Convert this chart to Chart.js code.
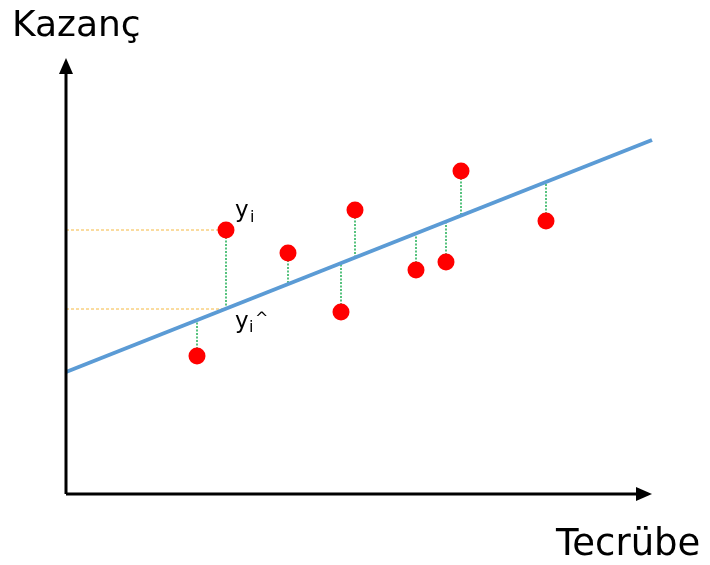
<html lang="tr">
<head>
<meta charset="UTF-8">
<title>Kazanç - Tecrübe</title>
<script src="https://cdn.jsdelivr.net/npm/chart.js@4.4.1/dist/chart.umd.min.js"></script>
<style>
  body { margin: 0; background: #fff; }
  #wrap { width: 710px; height: 565px; }
</style>
</head>
<body>
<div id="wrap"><canvas id="regChart" width="710" height="565"></canvas></div>
<script>
const tecrube = [131, 160, 222, 275, 289, 350, 380, 395, 480];
const kazanc  = [138, 264, 241, 182, 284, 224, 232, 323, 273];
// value of the fitted line under each point
const tahmin  = [174, 185, 210, 231, 236, 261, 272, 278, 312];
// regression line end points
const lineX = [0, 586];
const lineY = [122, 354];
const xMax = 586, yMax = 436;
const marked = 1; // index of the point labelled y_i

let datasets = [];
datasets.push({
  label: 'noktalar',
  data: tecrube.map((x, i) => ({ x: x, y: kazanc[i] })),
  pointRadius: 8.5, pointHoverRadius: 8.5,
  backgroundColor: '#ff0000', borderColor: '#ff0000', borderWidth: 0,
  showLine: false, order: 0
});
datasets.push({
  label: 'regresyon',
  data: lineX.map((x, i) => ({ x: x, y: lineY[i] })),
  showLine: true, borderColor: '#5b9bd5', borderWidth: 4,
  pointRadius: 0, order: 1
});
tecrube.forEach((x, i) => {
  datasets.push({
    label: 'hata' + i,
    data: [{ x: x, y: kazanc[i] }, { x: x, y: tahmin[i] }],
    showLine: true, borderColor: '#1fae54', borderWidth: 1.5,
    borderDash: [2, 1.5], pointRadius: 0, order: 2
  });
});
[kazanc[marked], tahmin[marked]].forEach((y, k) => {
  datasets.push({
    label: 'kılavuz' + k,
    data: [{ x: 0, y: y }, { x: tecrube[marked], y: y }],
    showLine: true, borderColor: '#f5b841', borderWidth: 1,
    borderDash: [3, 2], pointRadius: 0, order: 3
  });
});

const axesPlugin = {
  id: 'axesPlugin',
  afterDatasetsDraw(chart) {
    const ctx = chart.ctx;
    const xs = chart.scales.x, ys = chart.scales.y;
    const ox = xs.getPixelForValue(0), oy = ys.getPixelForValue(0);
    const ex = xs.getPixelForValue(xMax), ty = ys.getPixelForValue(yMax);
    ctx.save();
    ctx.strokeStyle = '#000'; ctx.fillStyle = '#000'; ctx.lineWidth = 3;
    ctx.beginPath();
    ctx.moveTo(ox, oy); ctx.lineTo(ex - 12, oy);
    ctx.moveTo(ox, oy); ctx.lineTo(ox, ty + 12);
    ctx.stroke();
    ctx.beginPath();
    ctx.moveTo(ex, oy); ctx.lineTo(ex - 16, oy - 7); ctx.lineTo(ex - 16, oy + 7); ctx.closePath();
    ctx.fill();
    ctx.beginPath();
    ctx.moveTo(ox, ty); ctx.lineTo(ox - 7, ty + 16); ctx.lineTo(ox + 7, ty + 16); ctx.closePath();
    ctx.fill();

    ctx.font = '36px "DejaVu Sans"';
    ctx.textBaseline = 'alphabetic';
    ctx.fillText('Kazanç', 12, 36);
    ctx.font = '37px "DejaVu Sans"';
    ctx.fillText('Tecrübe', 556, 555);

    const px = xs.getPixelForValue(tecrube[marked]);
    const py = ys.getPixelForValue(kazanc[marked]);
    const fy = ys.getPixelForValue(tahmin[marked]);
    ctx.font = '23px "DejaVu Sans"';
    ctx.fillText('y', px + 9, py - 13);
    ctx.fillText('y', px + 9, fy + 19);
    ctx.font = '16px "DejaVu Sans"';
    ctx.fillText('i', px + 24, py - 8);
    ctx.fillText('i', px + 23, fy + 23);
    ctx.fillText('^', px + 29, fy + 14);
    ctx.restore();
  }
};

new Chart(document.getElementById('regChart'), {
  type: 'scatter',
  data: { datasets: datasets },
  options: {
    responsive: false,
    animation: false,
    layout: { padding: { left: 66, right: 58, top: 58, bottom: 71 } },
    plugins: { legend: { display: false }, tooltip: { enabled: false } },
    elements: { line: { tension: 0 } },
    datasets: { scatter: { clip: false } },
    scales: {
      x: { type: 'linear', min: 0, max: xMax, display: false },
      y: { type: 'linear', min: 0, max: yMax, display: false }
    }
  },
  plugins: [axesPlugin]
});
</script>
</body>
</html>
